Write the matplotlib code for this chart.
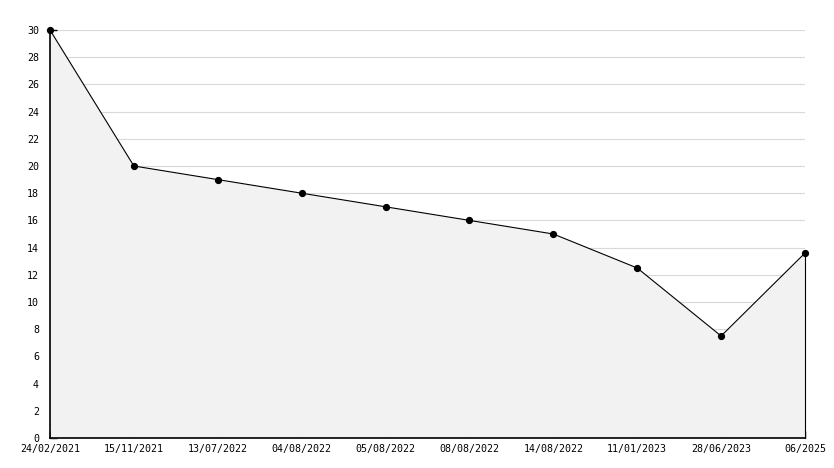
import numpy as np
import matplotlib
matplotlib.use('Agg')
import matplotlib.pyplot as plt
from matplotlib.ticker import MultipleLocator

# data
dates = ['24/02/2021', '15/11/2021', '13/07/2022', '04/08/2022', '05/08/2022',
         '08/08/2022', '14/08/2022', '11/01/2023', '28/06/2023', '06/2025']
values = [30, 20, 19, 18, 17, 16, 15, 12.5, 7.5, 13.6]

plt.rcParams['font.family'] = 'DejaVu Sans Mono'

fig = plt.figure(figsize=(8.34, 4.68), dpi=100)
ax = fig.add_axes([50 / 834, 30 / 468, 755 / 834, 408 / 468])

x = np.arange(len(dates))
ax.fill_between(x, values, 0, color='#f2f2f2', zorder=1, linewidth=0)
ax.plot([x[-1], x[-1]], [0, values[-1]], color='black', linewidth=0.8,
        zorder=2, clip_on=False)
ax.plot(x, values, color='black', linewidth=0.8, marker='o', markersize=4.2,
        zorder=3, clip_on=False)

ax.set_xlim(0, len(dates) - 1)
ax.set_ylim(0, 30)
ax.set_xticks(x)
ax.set_xticklabels(dates)
ax.yaxis.set_major_locator(MultipleLocator(2))
ax.yaxis.set_minor_locator(MultipleLocator(1))

ax.grid(axis='y', which='major', color='#d9d9d9', linewidth=0.8, zorder=0)
ax.set_axisbelow(True)

for side in ['top', 'right']:
    ax.spines[side].set_visible(False)
ax.spines['left'].set_linewidth(1.2)
ax.spines['bottom'].set_linewidth(1.2)

ax.tick_params(axis='both', which='major', direction='in', length=5, width=1,
               labelsize=7.2, pad=4, colors='black')
ax.tick_params(axis='y', which='minor', direction='in', length=4, width=1)
ax.tick_params(axis='y', which='major', pad=8)

fig.savefig('out.png', dpi=100)
